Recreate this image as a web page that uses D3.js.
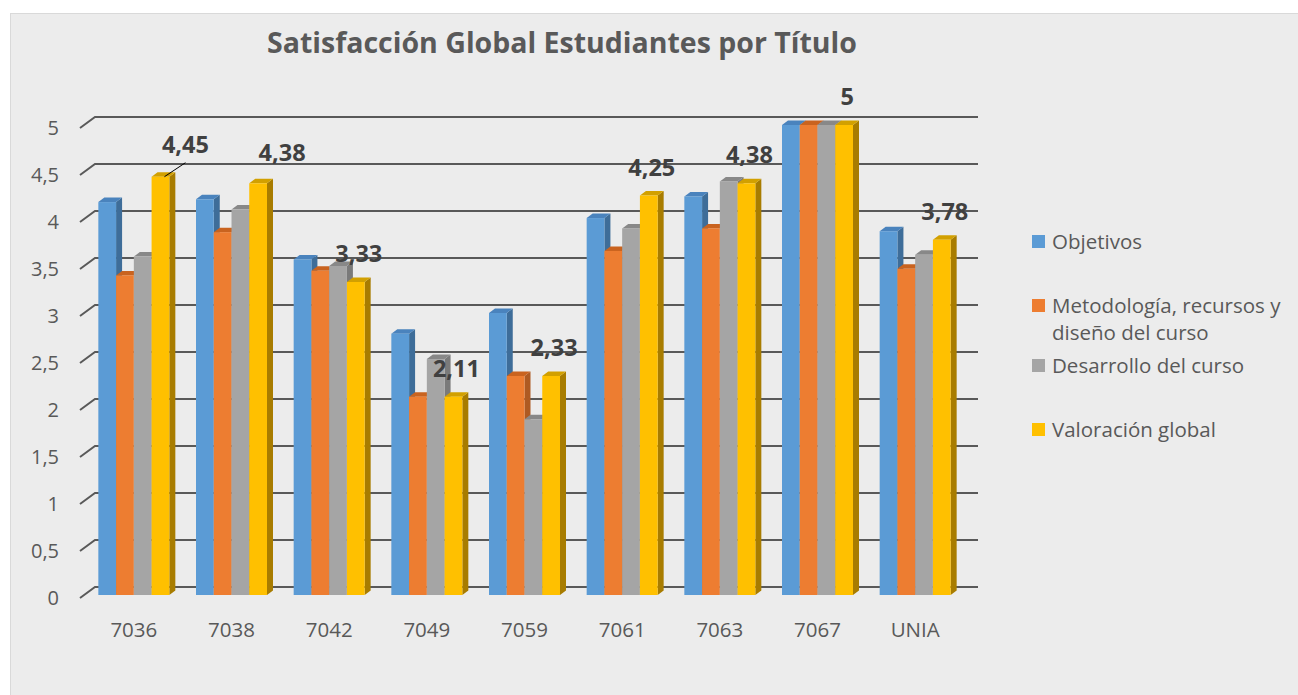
<!DOCTYPE html>
<html>
<head>
<meta charset="utf-8">
<script src="https://cdn.jsdelivr.net/npm/d3@7"></script>
<style>
  body { margin: 0; background: #fff; }
  text { font-family: "Open Sans", Lato, sans-serif; }
</style>
</head>
<body>
<div id="chart"></div>
<script>
// chart data
var categories = ['7036', '7038', '7042', '7049', '7059', '7061', '7063', '7067', 'UNIA'];
var seriesNames = ['Objetivos', 'Metodología, recursos y diseño del curso', 'Desarrollo del curso', 'Valoración global'];
var objetivos   = [4.18, 4.21, 3.57, 2.78, 3.00, 4.01, 4.24, 5, 3.87];
var metodologia = [3.40, 3.86, 3.45, 2.11, 2.33, 3.66, 3.90, 5, 3.47];
var desarrollo  = [3.60, 4.10, 3.50, 2.51, 1.87, 3.90, 4.40, 5, 3.62];
var valoracion  = [4.45, 4.38, 3.33, 2.11, 2.33, 4.25, 4.38, 5, 3.78];
var yTicks = [0, 0.5, 1, 1.5, 2, 2.5, 3, 3.5, 4, 4.5, 5];

var config = {
    width: 1298, height: 695,
    depth: { x: 6, y: 4.5 },       // bar depth
    wall: { x: 15, y: 11 }         // floor/back wall offset
};

var colors = [
    { front: '#5b9bd5', side: '#3e6d99', top: '#4a83bd' },
    { front: '#ed7d31', side: '#ae5a22', top: '#c9631f' },
    { front: '#a5a5a5', side: '#7a7a7a', top: '#888888' },
    { front: '#ffc000', side: '#a87c00', top: '#d2a000' }
];

var series = [objetivos, metodologia, desarrollo, valoracion];

var locale = d3.formatLocale({ decimal: ',', thousands: '.', grouping: [3], currency: ['', '€'] });
var fmt = locale.format('~r');

var translate = (x, y) => 'translate(' + x + ',' + y + ')';

var svg = d3.select('#chart').append('svg')
    .attr('width', config.width)
    .attr('height', config.height);

// panel
svg.append('rect')
    .attr('x', 10.5).attr('y', 13.5)
    .attr('width', config.width).attr('height', config.height)
    .attr('fill', '#ececec')
    .attr('stroke', '#d9d9d9');

var x = d3.scaleBand()
    .domain(categories)
    .range([85, 964]);

var inner = d3.scaleBand()
    .domain(d3.range(series.length))
    .range([0, 71]);

var groupOffset = (x.bandwidth() - 71) / 2;

var y = d3.scaleLinear()
    .domain([0, 5])
    .range([595, 125]);

// gridlines, drawn 3d style: short diagonal + line along back wall
var grid = svg.append('g').attr('class', 'grid');
grid.selectAll('path')
    .data(yTicks)
    .enter().append('path')
    .attr('d', d => {
        var yf = y(d) + 3;
        return 'M80,' + yf + 'L' + (80 + config.wall.x) + ',' + (yf - config.wall.y) + 'L978,' + (yf - config.wall.y);
    })
    .attr('fill', 'none')
    .attr('stroke', '#595959')
    .attr('stroke-width', 2);

// y tick labels
svg.append('g').selectAll('text')
    .data(yTicks)
    .enter().append('text')
    .attr('x', 59)
    .attr('y', d => y(d) + 3)
    .attr('dy', '0.35em')
    .attr('text-anchor', 'end')
    .attr('font-size', '20px')
    .attr('fill', '#595959')
    .text(d => fmt(d));

// x axis labels
var xAxis = d3.axisBottom(x).tickSize(0).tickPadding(0);
var xg = svg.append('g')
    .attr('transform', translate(0, 619))
    .call(xAxis);
xg.select('.domain').remove();
xg.selectAll('text')
    .attr('font-size', '20.5px')
    .attr('font-family', '"Open Sans", Lato, sans-serif')
    .attr('fill', '#595959')
    .attr('dy', '0.9em');

// bars, left to right so each front face covers the previous side face
var bars = [];
categories.forEach((c, i) => {
    series.forEach((s, j) => {
        bars.push({ cat: c, s: j, value: s[i] });
    });
});

var barW = inner.bandwidth();
var dx = config.depth.x, dy = config.depth.y;

var barG = svg.append('g').attr('class', 'bars')
    .selectAll('g')
    .data(bars)
    .enter().append('g');

barG.append('path') // side
    .attr('d', d => {
        var x1 = x(d.cat) + groupOffset + inner(d.s) + barW;
        var yt = y(d.value), yb = y(0);
        return 'M' + x1 + ',' + yt + 'L' + (x1 + dx) + ',' + (yt - dy) + 'L' + (x1 + dx) + ',' + (yb - dy) + 'L' + x1 + ',' + yb + 'Z';
    })
    .attr('fill', d => colors[d.s].side);

barG.append('path') // top
    .attr('d', d => {
        var x0 = x(d.cat) + groupOffset + inner(d.s);
        var yt = y(d.value);
        return 'M' + x0 + ',' + yt + 'L' + (x0 + dx) + ',' + (yt - dy) + 'L' + (x0 + barW + dx) + ',' + (yt - dy) + 'L' + (x0 + barW) + ',' + yt + 'Z';
    })
    .attr('fill', d => colors[d.s].top);

barG.append('rect') // front
    .attr('x', d => x(d.cat) + groupOffset + inner(d.s))
    .attr('y', d => y(d.value))
    .attr('width', barW)
    .attr('height', d => y(0) - y(d.value))
    .attr('fill', d => colors[d.s].front);

// data labels for "Valoración global"
var nudge = { '7036': [22, -4], '7038': [21, -2] };
var labelG = svg.append('g').attr('class', 'labels');
categories.forEach((c, i) => {
    var v = valoracion[i];
    var cx = x(c) + groupOffset + inner(3) + barW / 2 + 3;
    var by = y(v) - 20;
    var n = nudge[c] || [0, 0];
    labelG.append('text')
        .attr('x', cx + n[0])
        .attr('y', by + n[1])
        .attr('text-anchor', 'middle')
        .attr('font-size', '23.5px')
        .attr('font-weight', 'bold')
        .attr('fill', '#404040')
        .text(fmt(v));
    if (c === '7036') {
        labelG.append('line')
            .attr('x1', cx + 1).attr('y1', y(v))
            .attr('x2', cx + n[0]).attr('y2', by + n[1] + 10)
            .attr('stroke', '#000')
            .attr('stroke-width', 1);
    }
});

// title
svg.append('text')
    .attr('x', 562)
    .attr('y', 53)
    .attr('text-anchor', 'middle')
    .attr('font-size', '28.5px')
    .attr('font-weight', 'bold')
    .attr('fill', '#595959')
    .text('Satisfacción Global Estudiantes por Título');

// legend
var legendItems = [
    { name: 'Objetivos', lines: ['Objetivos'] },
    { name: seriesNames[1], lines: ['Metodología, recursos y', 'diseño del curso'] },
    { name: seriesNames[2], lines: ['Desarrollo del curso'] },
    { name: seriesNames[3], lines: ['Valoración global'] }
];
var legend = svg.append('g').attr('id', 'legend');
var ly = 242;
legendItems.forEach((item, i) => {
    var g = legend.append('g').attr('transform', translate(1032, ly));
    g.append('rect')
        .attr('x', 0).attr('y', -7)
        .attr('width', 13).attr('height', 13)
        .attr('fill', colors[i].front);
    item.lines.forEach((t, k) => {
        g.append('text')
            .attr('x', 20)
            .attr('y', k * 27)
            .attr('dy', '0.35em')
            .attr('font-size', '20.5px')
            .attr('fill', '#595959')
            .text(t);
    });
    ly += item.lines.length > 1 ? 60 : 64;
});
</script>
</body>
</html>
